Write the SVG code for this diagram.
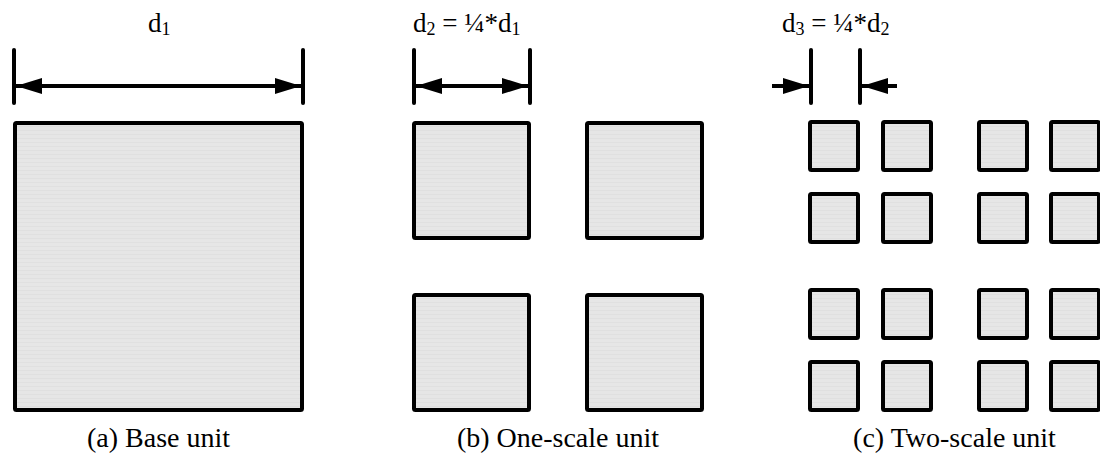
<svg xmlns="http://www.w3.org/2000/svg" width="1100" height="456" viewBox="0 0 1100 456">
  <defs>
    <pattern id="stripes" width="8" height="4" patternUnits="userSpaceOnUse">
      <rect width="8" height="4" fill="#e6e6e6"/>
      <rect y="2" width="8" height="1" fill="#e0e0e0"/>
    </pattern>
    <marker id="arrow" viewBox="0 0 26 16" refX="26" refY="8" markerWidth="26" markerHeight="16" markerUnits="userSpaceOnUse" orient="auto-start-reverse">
      <path d="M0,0 L26,8 L0,16 z" fill="#000"/>
    </marker>
  </defs>
  <style>
    .sq { fill: url(#stripes); stroke: #000; stroke-width: 4; stroke-linejoin: round; }
    .tick { stroke: #000; stroke-width: 4; stroke-linecap: round; fill: none; }
    .dim { stroke: #000; stroke-width: 4; fill: none; }
    .lbl { font-family: "Liberation Serif", "Times New Roman", serif; font-size: 28px; fill: #000; }
    .top { font-size: 27px; }
    .sub { font-size: 18px; }
  </style>
  <rect width="1100" height="456" fill="#fff"/>

  <g id="unit-a">
    <rect class="sq" x="15" y="123" width="287" height="287" rx="1.5"/>
    <text class="lbl" x="158.5" y="447" text-anchor="middle">(a) Base unit</text>
  </g>

  <g id="unit-b">
    <rect class="sq" x="414" y="123" width="115" height="115" rx="1.5"/>
    <rect class="sq" x="587" y="123" width="115" height="115" rx="1.5"/>
    <rect class="sq" x="414" y="295" width="115" height="115" rx="1.5"/>
    <rect class="sq" x="587" y="295" width="115" height="115" rx="1.5"/>
    <text class="lbl" x="558" y="447" text-anchor="middle">(b) One-scale unit</text>
  </g>

  <g id="unit-c">
    <rect class="sq" x="810" y="122" width="48" height="48" rx="1.5"/>
    <rect class="sq" x="883" y="122" width="48" height="48" rx="1.5"/>
    <rect class="sq" x="979" y="122" width="48" height="48" rx="1.5"/>
    <rect class="sq" x="1051" y="122" width="48" height="48" rx="1.5"/>
    <rect class="sq" x="810" y="194" width="48" height="48" rx="1.5"/>
    <rect class="sq" x="883" y="194" width="48" height="48" rx="1.5"/>
    <rect class="sq" x="979" y="194" width="48" height="48" rx="1.5"/>
    <rect class="sq" x="1051" y="194" width="48" height="48" rx="1.5"/>
    <rect class="sq" x="810" y="290" width="48" height="48" rx="1.5"/>
    <rect class="sq" x="883" y="290" width="48" height="48" rx="1.5"/>
    <rect class="sq" x="979" y="290" width="48" height="48" rx="1.5"/>
    <rect class="sq" x="1051" y="290" width="48" height="48" rx="1.5"/>
    <rect class="sq" x="810" y="362" width="48" height="48" rx="1.5"/>
    <rect class="sq" x="883" y="362" width="48" height="48" rx="1.5"/>
    <rect class="sq" x="979" y="362" width="48" height="48" rx="1.5"/>
    <rect class="sq" x="1051" y="362" width="48" height="48" rx="1.5"/>
    <text class="lbl" x="954.5" y="447" text-anchor="middle">(c) Two-scale unit</text>
  </g>

  <g id="dimensions">
    <line class="tick" x1="14" y1="50" x2="14" y2="103"/>
    <line class="tick" x1="303" y1="50" x2="303" y2="103"/>
    <line class="dim" x1="16" y1="86" x2="301" y2="86" marker-start="url(#arrow)" marker-end="url(#arrow)"/>
    <text class="lbl top" x="148" y="32">d<tspan class="sub" dy="3">1</tspan></text>

    <line class="tick" x1="414" y1="50" x2="414" y2="103"/>
    <line class="tick" x1="530" y1="50" x2="530" y2="103"/>
    <line class="dim" x1="416" y1="86" x2="528" y2="86" marker-start="url(#arrow)" marker-end="url(#arrow)"/>
    <text class="lbl top" x="413" y="32">d<tspan class="sub" dy="3">2</tspan><tspan dy="-3"> = ¼*d</tspan><tspan class="sub" dy="3">1</tspan></text>

    <line class="tick" x1="811" y1="50" x2="811" y2="103"/>
    <line class="tick" x1="860" y1="50" x2="860" y2="103"/>
    <line class="dim" x1="772" y1="86" x2="809" y2="86" marker-end="url(#arrow)"/>
    <line class="dim" x1="897" y1="86" x2="862" y2="86" marker-end="url(#arrow)"/>
    <text class="lbl top" x="782" y="32">d<tspan class="sub" dy="3">3</tspan><tspan dy="-3"> = ¼*d</tspan><tspan class="sub" dy="3">2</tspan></text>
  </g>
</svg>
